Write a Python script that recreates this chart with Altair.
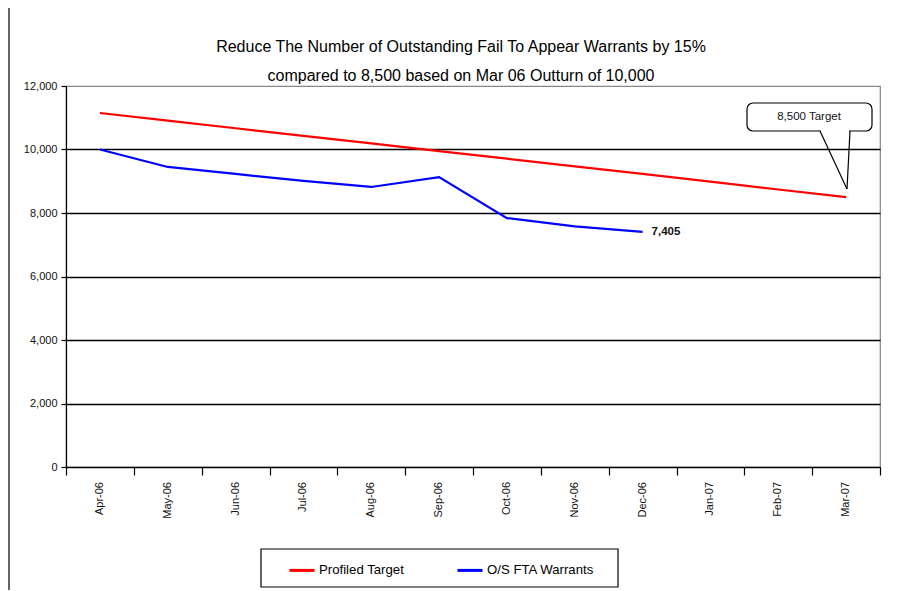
import altair as alt
import pandas as pd

months = ["Apr-06", "May-06", "Jun-06", "Jul-06", "Aug-06", "Sep-06",
          "Oct-06", "Nov-06", "Dec-06", "Jan-07", "Feb-07", "Mar-07"]
target = [11150, 10910, 10670, 10430, 10190, 9950, 9710, 9470, 9230, 8990, 8740, 8500]
warrants = [10000, 9450, 9230, 9010, 8820, 9130, 7840, 7580, 7405]
series_names = ["Profiled Target", "O/S FTA Warrants"]
series_colors = ["#ff0000", "#0000ff"]
y_ticks = [0, 2000, 4000, 6000, 8000, 10000, 12000]
last_label = ["7,405"]
callout_text = ["8,500 Target"]
title_line1 = ["Reduce The Number of Outstanding Fail To Appear Warrants by 15%"]
title_line2 = ["compared to 8,500 based on Mar 06 Outturn of 10,000"]

FONT = "Liberation Sans, Arial, sans-serif"

rows = []
for i, v in enumerate(target):
    rows.append({"series": series_names[0], "idx": i, "value": v})
for i, v in enumerate(warrants):
    rows.append({"series": series_names[1], "idx": i, "value": v})
df = pd.DataFrame(rows)

month_df = pd.DataFrame({"idx": list(range(len(months))), "month": months})
label_df = pd.DataFrame({"idx": [len(warrants) - 1], "value": [warrants[-1]], "text": last_label})
one = pd.DataFrame({"text": callout_text})
t1 = pd.DataFrame({"text": title_line1})
t2 = pd.DataFrame({"text": title_line2})

x_values = [i / 2 for i in range(-1, 2 * len(months))]
x_scale = alt.Scale(domain=[-0.5, len(months) - 0.5], nice=False, zero=False)

x_enc = alt.X(
    "idx:Q",
    scale=x_scale,
    axis=alt.Axis(
        values=x_values, labels=False,
        title=None, grid=False,
        tickSize=8, tickColor="#000", tickWidth=1.2,
        tickOpacity={"condition": {"test": "datum.value % 1 == 0", "value": 0}, "value": 1},
        domainColor="#000", domainWidth=1.2,
    ),
)
y_enc = alt.Y(
    "value:Q",
    scale=alt.Scale(domain=[0, 12000], nice=False),
    axis=alt.Axis(
        values=y_ticks, format=",.0f", title=None,
        labelFont=FONT, labelFontSize=11, labelColor="#111", labelPadding=4,
        tickSize=5, tickColor="#000", tickWidth=1.2,
        domainColor="#000", domainWidth=1.2,
        gridColor="#000", gridWidth=1.4,
        gridOpacity={"condition": {"test": "datum.value == 12000", "value": 0}, "value": 1},
    ),
)

legend_box = alt.Chart(one).mark_rect(fill="white", stroke="#000", strokeWidth=1.2).encode(
    x=alt.value(195), x2=alt.value(552), y=alt.value(463), y2=alt.value(501)
)

lines = alt.Chart(df).mark_line(strokeWidth=2.2).encode(
    x=x_enc, y=y_enc,
    color=alt.Color(
        "series:N",
        scale=alt.Scale(domain=series_names, range=series_colors),
        sort=series_names,
        legend=alt.Legend(
            title=None, orient="none", legendX=195, legendY=463, direction="horizontal",
            padding=7, symbolType="stroke", symbolSize=625,
            symbolStrokeWidth=3, symbolOffset=20, columnPadding=31, labelOffset=3,
            labelFont=FONT, labelFontSize=13.2, labelColor="#000",
        ),
    ),
)

x_labels = alt.Chart(month_df).mark_text(
    angle=270, align="right", baseline="middle", font=FONT, fontSize=11, color="#111"
).encode(x=alt.X("idx:Q", scale=x_scale), y=alt.value(396), text="month:N")

end_label = alt.Chart(label_df).mark_text(
    align="left", baseline="middle", dx=9, font=FONT, fontSize=11.5, fontWeight="bold", color="#111"
).encode(x="idx:Q", y="value:Q", text="text:N")

box = alt.Chart(one).mark_rect(cornerRadius=6, fill="white", stroke="#000", strokeWidth=1.2).encode(
    x=alt.value(681), x2=alt.value(806), y=alt.value(17), y2=alt.value(45)
)
cover = alt.Chart(one).mark_rule(color="white", strokeWidth=2.5).encode(
    x=alt.value(755), x2=alt.value(783), y=alt.value(45), y2=alt.value(45)
)
ptr_left = alt.Chart(one).mark_rule(color="#000", strokeWidth=1.2).encode(
    x=alt.value(754), x2=alt.value(781), y=alt.value(45), y2=alt.value(103)
)
ptr_right = alt.Chart(one).mark_rule(color="#000", strokeWidth=1.2).encode(
    x=alt.value(784), x2=alt.value(781), y=alt.value(45), y2=alt.value(103)
)
box_text = alt.Chart(one).mark_text(
    align="center", baseline="middle", font=FONT, fontSize=11.5, color="#111"
).encode(x=alt.value(743), y=alt.value(31), text="text:N")

title1 = alt.Chart(t1).mark_text(
    align="center", baseline="alphabetic", font=FONT, fontSize=16, color="#000"
).encode(x=alt.value(395), y=alt.value(-34), text="text:N")
title2 = alt.Chart(t2).mark_text(
    align="center", baseline="alphabetic", font=FONT, fontSize=16, color="#000"
).encode(x=alt.value(395), y=alt.value(-5), text="text:N")

frame = alt.Chart(one).mark_rule(color="#333", strokeWidth=1.5).encode(
    x=alt.value(-57), x2=alt.value(-57), y=alt.value(-78), y2=alt.value(510)
)

chart = alt.layer(legend_box, lines, x_labels, end_label, box, cover, ptr_left, ptr_right,
                  box_text, title1, title2, frame).properties(
    width=814, height=381,
    padding={"left": 58, "top": 78, "right": 12, "bottom": 123},
    autosize=alt.AutoSizeParams(type="none"),
).configure_view(stroke="#888", strokeWidth=1.2)

chart.save("out.html", embed_options={"renderer": "svg", "actions": False})
